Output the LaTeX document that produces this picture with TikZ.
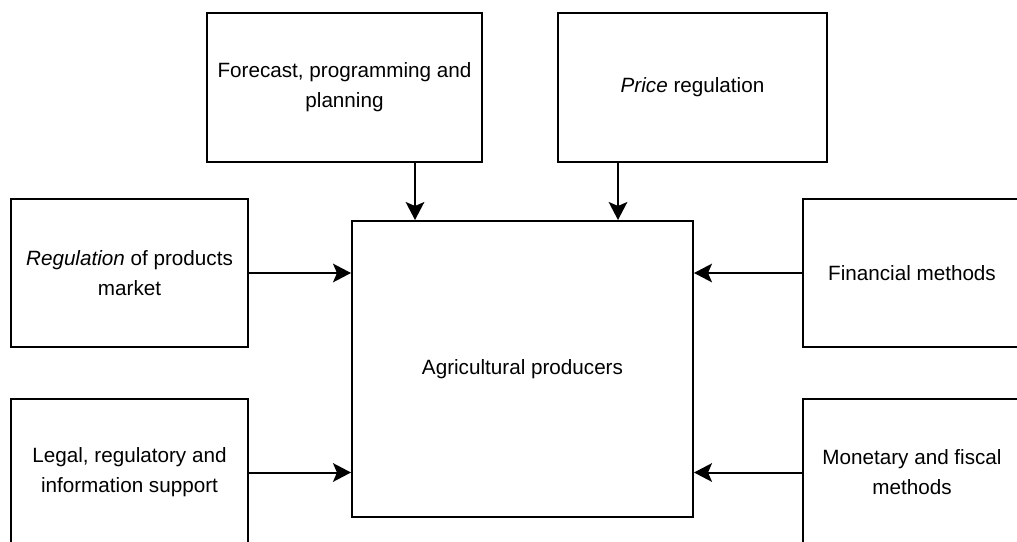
\documentclass[tikz,border=0pt]{standalone}
\usepackage{fontspec}
\setmainfont{Liberation Sans}
\usetikzlibrary{arrows.meta}

\tikzset{every picture/.style={line width=1.5pt}}
\tikzset{blk/.style={draw, rectangle, align=center, inner sep=0pt, font=\fontsize{15.5}{22.5}\selectfont},
  topbox/.style={blk, minimum height=111.75pt},
  sidebox/.style={blk, minimum height=111pt}}

\begin{document}
\begin{tikzpicture}[x=0.75pt,y=0.75pt,yscale=-1,xscale=1,>={Stealth[length=13.5pt,width=14pt,inset=3pt]}]
\useasboundingbox (0,0) rectangle (1017,542);

% Centre block
\node [blk, minimum width=255.75pt, minimum height=222pt] (prod) at (522.5,369) {Agricultural producers};

% Top blocks
\node [topbox, minimum width=206.25pt] (forecast) at (344.5,87.5) {Forecast, programming and\\planning};
\node [topbox, minimum width=201.75pt] (price) at (692.5,87.5) {\textit{Price} regulation};

% Left blocks
\node [sidebox, minimum width=177.75pt] (market) at (129.5,273) {\textit{Regulation} of products\\market};
\node [sidebox, minimum width=177.75pt] (legal) at (129.5,472.5) {Legal, regulatory and\\information support};

% Right blocks
\node [sidebox, minimum width=163.5pt] (finance) at (912,273) {Financial methods};
\node [sidebox, minimum width=163.5pt] (monetary) at (912,472.5) {Monetary and fiscal\\methods};

% Connectors
\coordinate (xa) at (415,0);
\coordinate (xb) at (618,0);
\draw [->] (forecast.south -| xa) -- (prod.north -| xa);
\draw [->] (price.south -| xb) -- (prod.north -| xb);
\draw [->] (market.east) -- (market.east -| prod.west);
\draw [->] (legal.east) -- (legal.east -| prod.west);
\draw [->] (finance.west) -- (finance.west -| prod.east);
\draw [->] (monetary.west) -- (monetary.west -| prod.east);

\end{tikzpicture}
\end{document}
